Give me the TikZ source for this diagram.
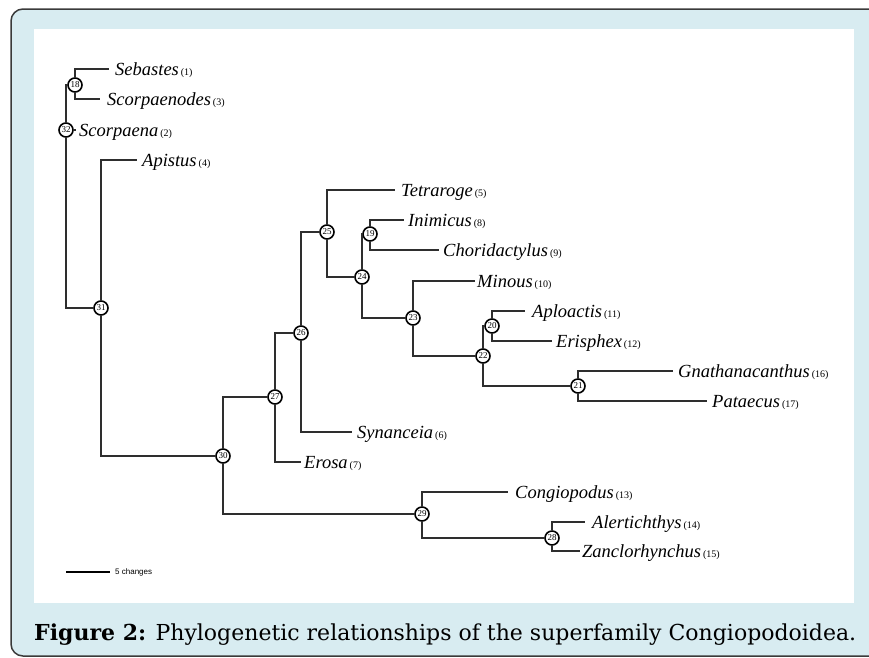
\documentclass[tikz,border=0pt]{standalone}
\usepackage{fontspec}
\setmainfont{Liberation Serif}
\newfontfamily\capfont{DejaVu Serif}
\newfontfamily\barfont{Liberation Sans}
\definecolor{panelblue}{HTML}{D8ECF1}
\definecolor{framegray}{HTML}{3A3A3A}
\definecolor{branchgray}{HTML}{2E2E2E}
\tikzset{
 branch/.style={draw=branchgray, line width=1.2pt},
 inode/.style={circle, draw=black, line width=1.6pt, fill=white, minimum size=14pt, inner sep=0pt, font=\fontsize{9}{9}\selectfont},
 leaf/.style={anchor=west, inner xsep=0pt, inner ysep=0pt, text height=13pt, text depth=1pt, font=\fontsize{18.5}{18.5}\selectfont},
}
\newcommand\mytaxon[3]{\kern#1pt\textit{#2}\kern2pt{\fontsize{10}{10}\selectfont(#3)}}
\begin{document}
\begin{tikzpicture}[x=1pt,y=-1pt]
\useasboundingbox (0,0) rectangle (869,657);
\clip (0,0) rectangle (869,657);
\draw[framegray, line width=1.5pt, fill=panelblue, rounded corners=12pt] (11,9) rectangle (900,656);
\fill[white] (34,29) rectangle (854,603);
% internal nodes
\node[inode] (n32) at (66,130) {32};
\node[inode] (n18) at (75,85) {18};
\node[inode] (n31) at (101,308) {31};
\node[inode] (n30) at (223,456) {30};
\node[inode] (n27) at (275,397) {27};
\node[inode] (n26) at (301,333) {26};
\node[inode] (n25) at (327,232) {25};
\node[inode] (n24) at (362,277) {24};
\node[inode] (n19) at (370,234) {19};
\node[inode] (n23) at (413,318) {23};
\node[inode] (n22) at (483,356) {22};
\node[inode] (n20) at (492,326) {20};
\node[inode] (n21) at (578,386) {21};
\node[inode] (n29) at (422,514) {29};
\node[inode] (n28) at (552,538) {28};
% leaves
\node[leaf] (sebastes) at (109,69) {\mytaxon{6}{Sebastes}{1}};
\node[leaf] (scorpaenodes) at (100,99) {\mytaxon{7}{Scorpaenodes}{3}};
\node[leaf] (scorpaena) at (76,130) {\mytaxon{3}{Scorpaena}{2}};
\node[leaf] (apistus) at (137,160) {\mytaxon{5}{Apistus}{4}};
\node[leaf] (tetraroge) at (395,190) {\mytaxon{6}{Tetraroge}{5}};
\node[leaf] (inimicus) at (404,220) {\mytaxon{4}{Inimicus}{8}};
\node[leaf] (choridactylus) at (439,250) {\mytaxon{4}{Choridactylus}{9}};
\node[leaf] (minous) at (475,281) {\mytaxon{2}{Minous}{10}};
\node[leaf] (aploactis) at (525,311) {\mytaxon{7}{Aploactis}{11}};
\node[leaf] (erisphex) at (552,341) {\mytaxon{4}{Erisphex}{12}};
\node[leaf] (gnathanacanthus) at (673,371) {\mytaxon{5}{Gnathanacanthus}{16}};
\node[leaf] (pataecus) at (707,401) {\mytaxon{5}{Pataecus}{17}};
\node[leaf] (synanceia) at (352,432) {\mytaxon{5}{Synanceia}{6}};
\node[leaf] (erosa) at (301,462) {\mytaxon{3}{Erosa}{7}};
\node[leaf] (congiopodus) at (508,492) {\mytaxon{7}{Congiopodus}{13}};
\node[leaf] (alertichthys) at (585,522) {\mytaxon{7}{Alertichthys}{14}};
\node[leaf] (zanclorhynchus) at (580,551) {\mytaxon{2}{Zanclorhynchus}{15}};
% branches
\draw[branch] (n32) |- (n18);
\draw[branch] (n32) -- (scorpaena);
\draw[branch] (n32) |- (n31);
\draw[branch] (n18) |- (sebastes);
\draw[branch] (n18) |- (scorpaenodes);
\draw[branch] (n31) |- (apistus);
\draw[branch] (n31) |- (n30);
\draw[branch] (n30) |- (n27);
\draw[branch] (n30) |- (n29);
\draw[branch] (n27) |- (n26);
\draw[branch] (n27) |- (erosa);
\draw[branch] (n26) |- (n25);
\draw[branch] (n26) |- (synanceia);
\draw[branch] (n25) |- (tetraroge);
\draw[branch] (n25) |- (n24);
\draw[branch] (n24) |- (n19);
\draw[branch] (n24) |- (n23);
\draw[branch] (n19) |- (inimicus);
\draw[branch] (n19) |- (choridactylus);
\draw[branch] (n23) |- (minous);
\draw[branch] (n23) |- (n22);
\draw[branch] (n22) |- (n20);
\draw[branch] (n22) |- (n21);
\draw[branch] (n20) |- (aploactis);
\draw[branch] (n20) |- (erisphex);
\draw[branch] (n21) |- (gnathanacanthus);
\draw[branch] (n21) |- (pataecus);
\draw[branch] (n29) |- (congiopodus);
\draw[branch] (n29) |- (n28);
\draw[branch] (n28) |- (alertichthys);
\draw[branch] (n28) |- (zanclorhynchus);
% scale bar
\coordinate (sbA) at (66,572);
\coordinate (sbB) at (110,572);
\draw[line width=1.2pt] (sbA) -- (sbB);
\node[anchor=west, inner sep=0pt, font=\barfont\fontsize{8}{8}\selectfont] (sblabel) at (115,572) {5 changes};
% caption
\node[anchor=base west, inner sep=0pt, font=\capfont\fontsize{22}{22}\selectfont] (caption) at (34,640) {\textbf{Figure 2:} Phylogenetic relationships of the superfamily Congiopodoidea.};
\end{tikzpicture}
\end{document}
